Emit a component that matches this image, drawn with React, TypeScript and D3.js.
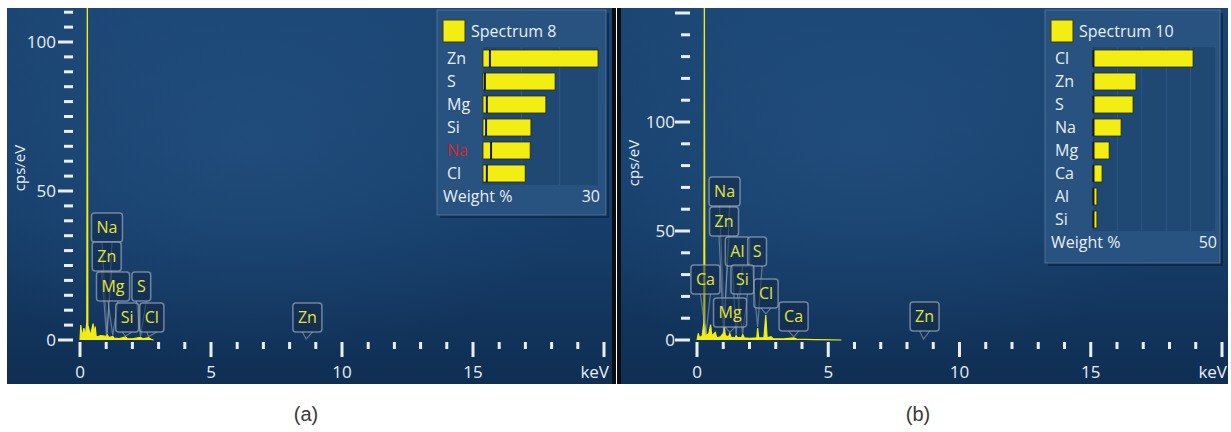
import React from 'react';
import * as d3 from 'd3';

// ---------- DATA ----------
// Spectrum (a): energy keV / intensity cps/eV
const spectrumA_keV = [0, 0.03, 0.08, 0.15, 0.2, 0.26, 0.28, 0.3, 0.4, 0.5, 0.54, 0.58, 0.62, 0.8, 1.0, 1.04, 1.1, 1.25, 1.3, 1.5, 1.74, 1.8, 2.0, 2.31, 2.4, 2.62, 2.7, 2.8];
const spectrumA_cps = [0, 5, 1, 4, 1, 6, 130, 5, 1.5, 5.5, 1.5, 4.5, 1, 1.5, 1.2, 1.8, 0.8, 1.2, 0.6, 0.5, 1, 0.5, 0.4, 0.9, 0.4, 0.8, 0.3, 0];
// Spectrum (b)
const spectrumB_keV = [0, 0.05, 0.1, 0.2, 0.26, 0.28, 0.3, 0.35, 0.45, 0.52, 0.56, 0.7, 0.75, 0.9, 1.0, 1.04, 1.08, 1.2, 1.25, 1.3, 1.45, 1.49, 1.55, 1.7, 1.74, 1.8, 2.0, 2.28, 2.31, 2.35, 2.55, 2.62, 2.67, 2.82, 2.9, 3.3, 3.69, 3.8, 4.5, 5.5];
const spectrumB_cps = [0, 3, 1, 2, 8, 170, 8, 2, 3, 7, 2, 3.5, 1, 1.5, 3, 6, 2, 1.5, 3, 1.2, 1, 2, 1, 1.2, 2.5, 1, 0.8, 1, 5.5, 1, 1, 11.5, 1, 1.5, 0.6, 0.5, 1, 0.4, 0.2, 0];

// Legends (weight %)
const legendA_elements = ['Zn', 'S', 'Mg', 'Si', 'Na', 'Cl'];
const legendA_weight = [30.0, 18.8, 16.4, 12.5, 12.3, 11.0];
const legendA_sigma = [1.8, 0.5, 1.0, 0.8, 2.1, 1.0];
const legendA_doubtful = [false, false, false, false, true, false];
const legendB_elements = ['Cl', 'Zn', 'S', 'Na', 'Mg', 'Ca', 'Al', 'Si'];
const legendB_weight = [41.0, 17.6, 16.4, 11.5, 6.6, 3.7, 1.6, 1.6];
const legendB_sigma = [0.2, 0.2, 0.2, 0.2, 0.2, 0.2, 0.2, 0.2];
const legendB_doubtful = [false, false, false, false, false, false, false, false];

// Peak labels: element and line energy (keV)
const labelsA_elements = ['Na', 'Zn', 'Mg', 'S', 'Si', 'Cl', 'Zn'];
const labelsA_keV = [1.04, 1.01, 1.25, 2.31, 1.74, 2.62, 8.63];
const labelsB_elements = ['Na', 'Zn', 'Al', 'S', 'Ca', 'Si', 'Mg', 'Cl', 'Ca', 'Zn'];
const labelsB_keV = [1.04, 1.01, 1.49, 2.31, 0.34, 1.74, 1.25, 2.62, 3.69, 8.63];

const xTickLabels = ['0', '5', '10', '15'];

// ---------- LAYOUT ----------
// label box placement (centre in keV, top in cps/eV)
const labelsA_boxX = [1.03, 1.02, 1.26, 2.34, 1.8, 2.74, 8.68];
const labelsA_boxY = [42.6, 32.9, 22.8, 22.8, 12.4, 12.4, 12.4];
const labelsB_boxX = [1.05, 1.03, 1.54, 2.29, 0.32, 1.73, 1.26, 2.63, 3.68, 8.67];
const labelsB_boxY = [74.8, 61.0, 47.2, 47.2, 34.4, 34.4, 19.3, 28.0, 17.4, 17.4];

const FONT = "'Open Sans', 'Noto Sans', sans-serif";
const WHITE = '#e9eef4';
const YELLOW = '#f2ee14';
const LABEL_YELLOW = '#e4e43a';

let measureCtx: CanvasRenderingContext2D | null = null;
function textWidth(t: string, size: number) {
  if (!measureCtx) {
    const c = document.createElement('canvas');
    measureCtx = c.getContext('2d');
  }
  if (!measureCtx) return t.length * size * 0.6;
  measureCtx.font = `${size}px ${FONT}`;
  return measureCtx.measureText(t).width;
}

type PanelCfg = {
  id: string;
  px0: number; px1: number; py0: number; py1: number;
  xRange: [number, number];
  yRange: [number, number]; // for domain [0,100]
  yTop: number; yMinorStep: number; yMajorStep: number;
  yLabelX: number; yTickRight: number;
  cpsLabel: [number, number];
  keV: number[]; cps: number[];
  labelsEl: string[]; labelsKeV: number[]; boxX: number[]; boxY: number[];
  legend: { x: number; y: number; w: number; h: number; px0: number; px1: number; rowTop: number; rowH: number; max: number; title: string;
    el: string[]; w8: number[]; sig: number[]; red: boolean[] };
  caption: string; captionX: number;
};

const panels: PanelCfg[] = [
  {
    id: 'a', px0: 7, px1: 612, py0: 8, py1: 384,
    xRange: [80, 604], yRange: [340, 42], yTop: 110, yMinorStep: 5, yMajorStep: 50,
    yLabelX: 56, yTickRight: 73, cpsLabel: [20, 168],
    keV: spectrumA_keV, cps: spectrumA_cps,
    labelsEl: labelsA_elements, labelsKeV: labelsA_keV, boxX: labelsA_boxX, boxY: labelsA_boxY,
    legend: { x: 437, y: 10, w: 169, h: 205, px0: 483, px1: 598, rowTop: 47, rowH: 23, max: 30, title: 'Spectrum 8',
      el: legendA_elements, w8: legendA_weight, sig: legendA_sigma, red: legendA_doubtful },
    caption: '(a)', captionX: 306,
  },
  {
    id: 'b', px0: 621, px1: 1228, py0: 8, py1: 384,
    xRange: [697, 1222], yRange: [340, 122], yTop: 150, yMinorStep: 10, yMajorStep: 50,
    yLabelX: 675, yTickRight: 690, cpsLabel: [634, 163],
    keV: spectrumB_keV, cps: spectrumB_cps,
    labelsEl: labelsB_elements, labelsKeV: labelsB_keV, boxX: labelsB_boxX, boxY: labelsB_boxY,
    legend: { x: 1045, y: 10, w: 175, h: 253, px0: 1093, px1: 1215, rowTop: 47, rowH: 23, max: 50, title: 'Spectrum 10',
      el: legendB_elements, w8: legendB_weight, sig: legendB_sigma, red: legendB_doubtful },
    caption: '(b)', captionX: 918,
  },
];

function Panel({ c }: { c: PanelCfg }) {
  const x = d3.scaleLinear().domain([0, 20]).range(c.xRange);
  const y = d3.scaleLinear().domain([0, 100]).range(c.yRange);
  const area = d3.area<number>()
    .x((_, i) => x(c.keV[i]))
    .y0(y(0))
    .y1((d) => y(d));
  const line = d3.line<number>().x((_, i) => x(c.keV[i])).y((d) => y(d));

  const yTicks = d3.range(0, c.yTop + 0.001, c.yMinorStep);
  const xTicks = d3.range(0, 20.001, 1);

  const peakAt = (e: number) => {
    let best = 0, bd = 1e9;
    c.keV.forEach((k, i) => { const dd = Math.abs(k - e); if (dd < bd) { bd = dd; best = i; } });
    return bd < 0.05 ? c.cps[best] : 0;
  };

  const L = c.legend;
  const lx = d3.scaleLinear().domain([0, L.max]).range([L.px0, L.px1]);
  const plotBottom = L.rowTop + L.rowH * L.el.length;

  return (
    <g>
      <defs>
        <linearGradient id={`bg-${c.id}`} x1="0" y1="0" x2="0" y2="1">
          <stop offset="0" stopColor="#1a4573" />
          <stop offset="0.6" stopColor="#163d69" />
          <stop offset="1" stopColor="#0f2e53" />
        </linearGradient>
        <radialGradient id={`glow-${c.id}`} cx="0.4" cy="0.35" r="0.6">
          <stop offset="0" stopColor="#2a5a8c" stopOpacity="0.45" />
          <stop offset="1" stopColor="#2a5a8c" stopOpacity="0" />
        </radialGradient>
        <clipPath id={`clip-${c.id}`}>
          <rect x={c.px0} y={c.py0} width={c.px1 - c.px0} height={c.py1 - c.py0} />
        </clipPath>
      </defs>
      <rect x={c.px0} y={c.py0} width={c.px1 - c.px0} height={c.py1 - c.py0} fill={`url(#bg-${c.id})`} />
      <rect x={c.px0} y={c.py0} width={c.px1 - c.px0} height={c.py1 - c.py0} fill={`url(#glow-${c.id})`} />

      <g clipPath={`url(#clip-${c.id})`}>
        {/* y axis ticks */}
        {yTicks.map((t) => {
          const major = Math.abs(t % c.yMajorStep) < 1e-6;
          const w = major ? 15 : 9;
          return <rect key={`yt${t}`} x={c.yTickRight - w} y={y(t) - 1.5} width={w} height={3} fill={WHITE} />;
        })}
        {yTicks.filter((t) => Math.abs(t % c.yMajorStep) < 1e-6 && t <= 100).map((t) => (
          <text key={`yl${t}`} x={c.yLabelX} y={y(t)} dy="0.35em" textAnchor="end" fontSize={17} fill={WHITE} fontFamily={FONT}>{t}</text>
        ))}
        <text transform={`translate(${c.cpsLabel[0]},${c.cpsLabel[1]}) rotate(-90)`} textAnchor="middle" dy="0.35em" fontSize={15} fill={WHITE} fontFamily={FONT}>cps/eV</text>

        {/* x axis ticks */}
        {xTicks.map((t) => {
          const major = t % 5 === 0;
          return <rect key={`xt${t}`} x={x(t) - 1.5} y={342} width={3} height={major ? 15 : 7} fill={WHITE} />;
        })}
        {xTickLabels.map((s) => (
          <text key={`xl${s}`} x={x(+s)} y={378} textAnchor="middle" fontSize={17} fill={WHITE} fontFamily={FONT}>{s}</text>
        ))}
        <text x={x(20) + 5} y={378} textAnchor="end" fontSize={17} fill={WHITE} fontFamily={FONT}>keV</text>

        {/* spectrum */}
        <path d={area(c.cps) || ''} fill={YELLOW} />
        <path d={line(c.cps) || ''} fill="none" stroke={YELLOW} strokeWidth={1.2} />

        {/* peak labels */}
        {c.labelsEl.map((el, i) => {
          const w = textWidth(el, 16) + 10;
          const h = 29;
          const cx = x(c.boxX[i]);
          const top = y(c.boxY[i]);
          const bottom = top + h;
          const ax = x(c.labelsKeV[i]);
          const ay = Math.min(y(peakAt(c.labelsKeV[i])) - 1, y(0) - 1);
          const hw = Math.min(5, w / 2 - 2);
          return (
            <g key={`lab${i}`}>
              <path d={`M${cx - hw},${bottom} L${ax},${ay} L${cx + hw},${bottom}`} fill="rgba(20,45,75,0.35)" stroke="rgba(150,168,190,0.6)" strokeWidth={1.2} />
              <rect x={cx - w / 2} y={top} width={w} height={h} rx={3} fill="rgba(18,42,72,0.55)" stroke="rgba(150,168,190,0.7)" strokeWidth={1.5} />
              <text x={cx} y={top + 20} textAnchor="middle" fontSize={16} fill={LABEL_YELLOW} fontFamily={FONT}>{el}</text>
            </g>
          );
        })}

        {/* legend */}
        <rect x={L.x + 3} y={L.y + 3} width={L.w} height={L.h} fill="rgba(5,20,40,0.45)" />
        <rect x={L.x} y={L.y} width={L.w} height={L.h} fill="#285280" stroke="#4b7098" strokeWidth={1} />
        <rect x={L.x + 6} y={L.y + 10} width={22} height={22} fill={YELLOW} stroke="#3a3a10" strokeWidth={1} />
        <text x={L.x + 34} y={L.y + 27} fontSize={16} fill={WHITE} fontFamily={FONT}>{L.title}</text>
        <rect x={L.px0} y={L.rowTop} width={L.px1 - L.px0} height={plotBottom - L.rowTop} fill="#1f4872" />
        {d3.range(10, L.max, 10).map((g) => (
          <line key={`g${g}`} x1={lx(g)} x2={lx(g)} y1={L.rowTop} y2={plotBottom} stroke="#2d5985" strokeWidth={1} />
        ))}
        {L.el.map((el, i) => {
          const cy = L.rowTop + L.rowH * i + L.rowH / 2;
          return (
            <g key={`lg${i}`}>
              <text x={L.x + 10} y={cy} dy="0.36em" fontSize={16} fill={L.red[i] ? '#d8262a' : WHITE} fontFamily={FONT}>{el}</text>
              <rect x={lx(0)} y={cy - 8.5} width={lx(L.w8[i]) - lx(0)} height={17} fill={YELLOW} stroke="#2a2a08" strokeWidth={0.8} />
              <line x1={lx(L.sig[i])} x2={lx(L.sig[i])} y1={cy - 8.5} y2={cy + 8.5} stroke="#1a1a10" strokeWidth={2} />
            </g>
          );
        })}
        <text x={L.x + 6} y={plotBottom + 17} fontSize={16} fill={WHITE} fontFamily={FONT}>Weight %</text>
        <text x={L.px1 + 2} y={plotBottom + 17} textAnchor="end" fontSize={16} fill={WHITE} fontFamily={FONT}>{L.max}</text>
      </g>

      <text x={c.captionX} y={421} textAnchor="middle" fontSize={20} fill="#3a3a3a" fontFamily="'Liberation Sans', Arial, sans-serif" fontWeight={300}>{c.caption}</text>
    </g>
  );
}

export default function App() {
  return (
    <svg width={1231} height={432} style={{ position: 'absolute', left: 0, top: 0, background: '#ffffff' }}>
      {panels.map((p) => <Panel key={p.id} c={p} />)}
      {/* dark frame between panels */}
      <rect x={612} y={8} width={4} height={376} fill="#0a0d12" />
      <rect x={617} y={8} width={4} height={376} fill="#0a0d12" />
    </svg>
  );
}
